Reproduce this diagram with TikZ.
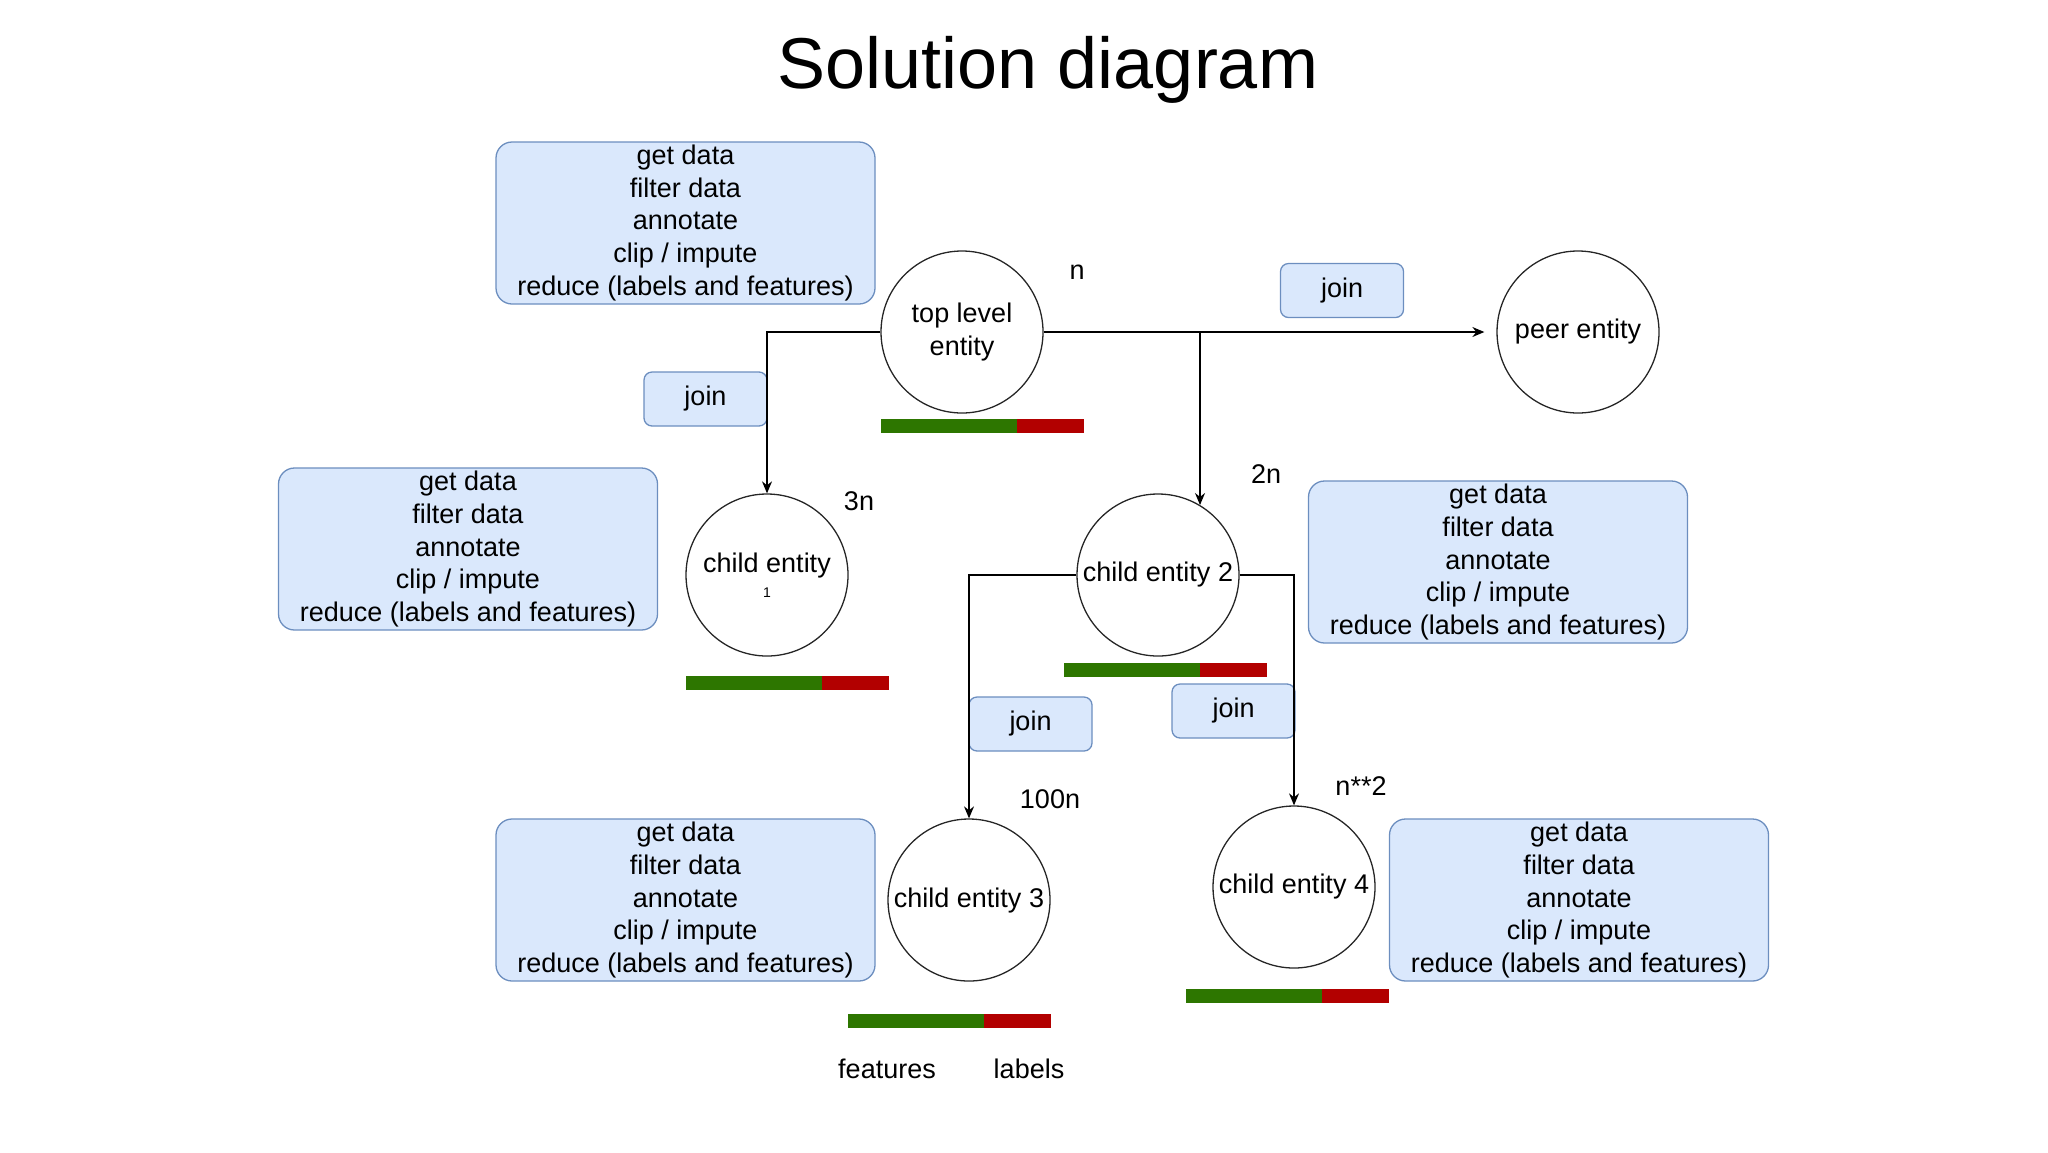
\documentclass[tikz,border=0pt]{standalone}
\usepackage{fontspec}
\setmainfont{Liberation Sans}
\usetikzlibrary{arrows.meta}
\definecolor{boxfill}{HTML}{DAE8FC}
\definecolor{boxline}{HTML}{6C8EBF}
\definecolor{featgreen}{HTML}{2D7600}
\definecolor{labred}{HTML}{B20000}
\newcommand{\bodyfont}{\fontsize{13.5}{16.3}\selectfont}

\begin{document}
\begin{tikzpicture}[x=0.5pt, y=-0.5pt, >={Stealth[length=6pt, width=5pt]}, line width=0.65pt,
	entity/.style={draw=black!85, circle, minimum size=81pt, inner sep=0pt, align=center, font=\bodyfont},
	steps/.style={draw=boxline, fill=boxfill, rounded corners=8pt, minimum width=189.5pt, minimum height=81pt, inner sep=0pt, align=center, font=\bodyfont},
	joinbox/.style={draw=boxline, fill=boxfill, rounded corners=4pt, minimum width=61.5pt, minimum height=27pt, inner sep=0pt, font=\bodyfont},
	count/.style={inner sep=0pt, font=\bodyfont}]
			\useasboundingbox (0,0) rectangle (2048,1152);
			
			\node[anchor=base, inner sep=0pt, font=\fontsize{36}{40}\selectfont] (title) at (1048,88) {Solution diagram};
			
			\node[entity] (top) at (962,332) {top level\\entity};
			\node[entity] (peer) at (1578,332) {peer entity};
			\node[entity] (child_1) at (767,575) {child entity\\[-3.8pt]{\fontsize{7}{8}\selectfont 1}};
			\node[entity] (child_2) at (1158,575) {child entity 2};
			\node[entity] (child_3) at (969,900) {child entity 3};
			\node[entity] (child_4) at (1294,887) {child entity 4};
			
			\node[steps] (steps_top) at (685.5,223) {get data\\filter data\\annotate\\clip / impute\\reduce (labels and features)};
			\node[steps] (steps_1) at (468,549) {get data\\filter data\\annotate\\clip / impute\\reduce (labels and features)};
			\node[steps] (steps_2) at (1498,562) {get data\\filter data\\annotate\\clip / impute\\reduce (labels and features)};
			\node[steps] (steps_3) at (685.5,900) {get data\\filter data\\annotate\\clip / impute\\reduce (labels and features)};
			\node[steps] (steps_4) at (1579,900) {get data\\filter data\\annotate\\clip / impute\\reduce (labels and features)};
			
			\node[joinbox] (join_1) at (705.5,399) {join};
			\node[joinbox] (join_peer) at (1342,290.5) {join};
			\node[joinbox] (join_3) at (1030.5,724) {join};
			\node[joinbox] (join_4) at (1233.5,711) {join};
			
			\node[count] (n_top) at (1077,272) {n};
			\node[count] (n_1) at (859,501) {3n};
			\node[count] (n_2) at (1266,474) {2n};
			\node[count] (n_3) at (1050,799) {100n};
			\node[count] (n_4) at (1361,786) {n**2};
			
			% feature / label split bars
			\foreach \x/\y in {881/419, 686/676, 1064/663, 848/1014, 1186/989}{
				\fill[featgreen] (\x,\y) rectangle ++(136,14);
				\fill[labred] (\x+136,\y) rectangle ++(67,14);
			}
			\node[count] (features) at (887,1069) {features};
			\node[count] (labels) at (1029,1069) {labels};
			
			\coordinate (fork_2) at (1200,332);
			\draw[->] (top.west) -| (child_1);
			\draw[->, shorten >=6pt] (top.east) -- (peer.west);
			\draw[->] (fork_2) -- (fork_2 |- child_2.59);
			\draw[->] (child_2.west) -| (child_3);
			\draw[->] (child_2.east) -| (child_4);
		\end{tikzpicture}
\end{document}
